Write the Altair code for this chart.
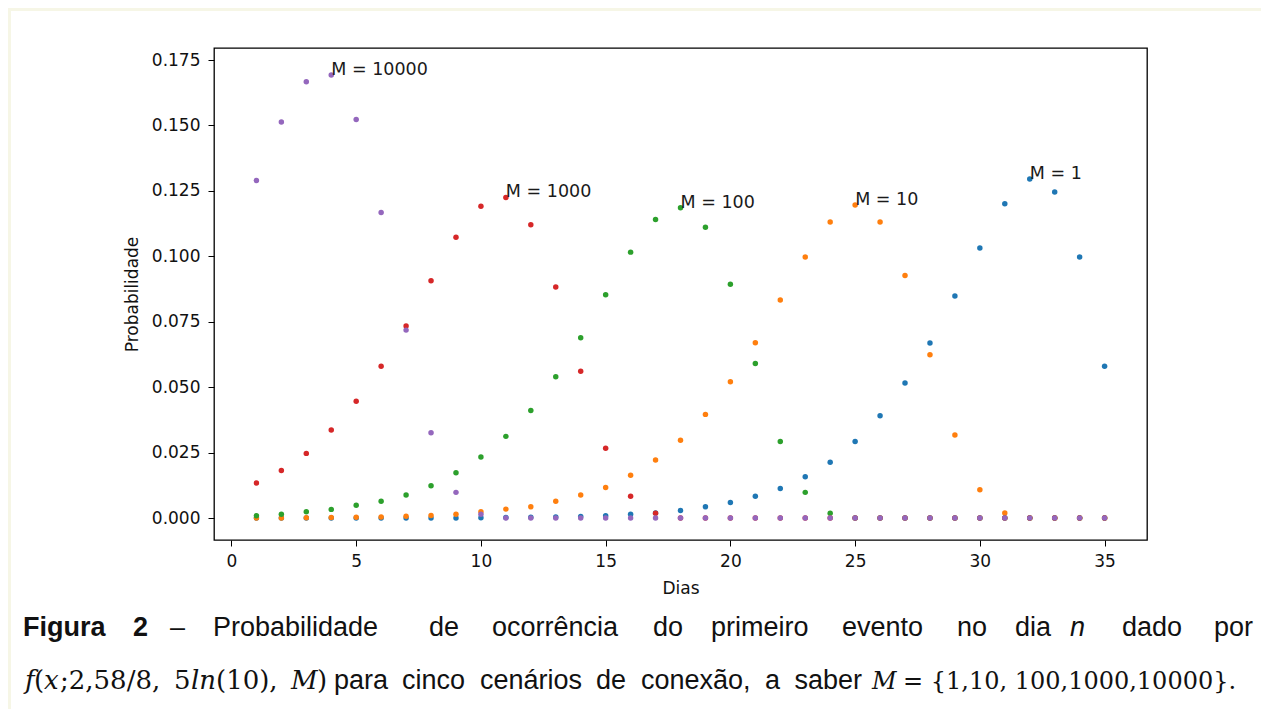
import altair as alt
import pandas as pd

# ---------------- data ----------------
days = list(range(1, 36))
series_names = ["M = 1", "M = 10", "M = 100", "M = 1000", "M = 10000"]
series_colors = ["#1f77b4", "#ff7f0e", "#2ca02c", "#d62728", "#9467bd"]

m1 = [0.0, 0.0, 0.0, 0.0, 0.0, 0.0, 0.0, 0.0, 0.0, 0.0001,
      0.0002, 0.0003, 0.0004, 0.0006, 0.0009, 0.0014, 0.0019, 0.0029, 0.0043, 0.0059,
      0.0083, 0.0113, 0.0158, 0.0213, 0.0292, 0.0391, 0.0516, 0.0669, 0.0848, 0.1032,
      0.1201, 0.1295, 0.1246, 0.0997, 0.0580]
m10 = [0.0, 0.0, 0.0001, 0.0002, 0.0003, 0.0004, 0.0007, 0.0010, 0.0014, 0.0024,
       0.0034, 0.0043, 0.0064, 0.0088, 0.0117, 0.0163, 0.0222, 0.0297, 0.0396, 0.0521,
       0.0670, 0.0833, 0.0997, 0.1131, 0.1196, 0.1131, 0.0927, 0.0624, 0.0317, 0.0108,
       0.0019, 0.0, 0.0, 0.0, 0.0]
m100 = [0.0009, 0.0014, 0.0024, 0.0033, 0.0049, 0.0064, 0.0088, 0.0123, 0.0173, 0.0233,
        0.0312, 0.0411, 0.0540, 0.0689, 0.0853, 0.1016, 0.1141, 0.1186, 0.1111, 0.0893,
        0.0590, 0.0292, 0.0098, 0.0018, 0.0, 0.0, 0.0, 0.0, 0.0, 0.0,
        0.0, 0.0, 0.0, 0.0, 0.0]
m1000 = [0.0134, 0.0182, 0.0247, 0.0336, 0.0446, 0.0580, 0.0734, 0.0907, 0.1073, 0.1191,
         0.1225, 0.1121, 0.0883, 0.0561, 0.0267, 0.0083, 0.0018, 0.0, 0.0, 0.0,
         0.0, 0.0, 0.0, 0.0, 0.0, 0.0, 0.0, 0.0, 0.0, 0.0,
         0.0, 0.0, 0.0, 0.0, 0.0]
m10000 = [0.1290, 0.1513, 0.1667, 0.1693, 0.1523, 0.1167, 0.0718, 0.0326, 0.0098, 0.0014,
          0.0, 0.0, 0.0, 0.0, 0.0, 0.0, 0.0, 0.0, 0.0, 0.0,
          0.0, 0.0, 0.0, 0.0, 0.0, 0.0, 0.0, 0.0, 0.0, 0.0,
          0.0, 0.0, 0.0, 0.0, 0.0]

label_texts = ["M = 1", "M = 10", "M = 100", "M = 1000", "M = 10000"]
label_days = [32, 25, 18, 11, 4]
label_vals = [0.1295, 0.1196, 0.1186, 0.1225, 0.1693]

x_ticks = [0, 5, 10, 15, 20, 25, 30, 35]
y_ticks = [0.0, 0.025, 0.05, 0.075, 0.1, 0.125, 0.15, 0.175]

# ---------------- tables ----------------
all_series = [m1, m10, m100, m1000, m10000]
rows = []
for name, vals in zip(series_names, all_series):
    for d, v in zip(days, vals):
        rows.append({"Dias": d, "Probabilidade": v, "M": name})
df = pd.DataFrame(rows)
labels_df = pd.DataFrame({"text": label_texts, "Dias": label_days, "Probabilidade": label_vals})

# ---------------- layout ----------------
PLOT_LEFT, PLOT_TOP = 214, 48
W, H = 933, 492

xscale = alt.Scale(domain=[-0.7, 36.7], nice=False, zero=False)
yscale = alt.Scale(domain=[-0.0084, 0.1796], nice=False, zero=False)

TICK_FONT = "DejaVu Sans"

x_enc = alt.X("Dias:Q", scale=xscale,
              axis=alt.Axis(values=x_ticks, format="d", grid=False, domain=False,
                            tickColor="black", tickSize=6, tickWidth=1,
                            labelFont=TICK_FONT, labelFontSize=17, labelColor="#111",
                            labelPadding=7, title="Dias", titleFont=TICK_FONT,
                            titleFontSize=17, titleFontWeight="normal", titleColor="#111",
                            titlePadding=11))
y_enc = alt.Y("Probabilidade:Q", scale=yscale,
              axis=alt.Axis(values=y_ticks, format=".3f", grid=False, domain=False,
                            tickColor="black", tickSize=6, tickWidth=1,
                            labelFont=TICK_FONT, labelFontSize=17, labelColor="#111",
                            labelPadding=8, title="Probabilidade", titleFont=TICK_FONT,
                            titleFontSize=17, titleFontWeight="normal", titleColor="#111",
                            titlePadding=10))

points = alt.Chart(df).mark_circle(size=30, opacity=1).encode(
    x=x_enc, y=y_enc,
    color=alt.Color("M:N", scale=alt.Scale(domain=series_names, range=series_colors), legend=None),
)

annots = alt.Chart(labels_df).mark_text(
    align="left", baseline="alphabetic", font=TICK_FONT, fontSize=17.5, color="#1a1a1a"
).encode(x=alt.X("Dias:Q", scale=xscale), y=alt.Y("Probabilidade:Q", scale=yscale), text="text:N")

# ---------------- caption (page-pixel layout) ----------------
SANS = "Liberation Sans"
SERIF = "DejaVu Serif"
L1, L2 = 636, 689
caption = [
    ("Figura", 23, L1, SANS, "bold", "normal", 27, "left"),
    ("2", 133, L1, SANS, "bold", "normal", 27, "left"),
    ("–", 170, L1, SANS, "normal", "normal", 27, "left"),
    ("Probabilidade", 213, L1, SANS, "normal", "normal", 27, "left"),
    ("de", 429, L1, SANS, "normal", "normal", 27, "left"),
    ("ocorrência", 492, L1, SANS, "normal", "normal", 27, "left"),
    ("do", 653, L1, SANS, "normal", "normal", 27, "left"),
    ("primeiro", 711, L1, SANS, "normal", "normal", 27, "left"),
    ("evento", 842, L1, SANS, "normal", "normal", 27, "left"),
    ("no", 957, L1, SANS, "normal", "normal", 27, "left"),
    ("dia", 1015, L1, SANS, "normal", "normal", 27, "left"),
    ("n", 1070, L1, SANS, "normal", "italic", 27, "left"),
    ("dado", 1122, L1, SANS, "normal", "normal", 27, "left"),
    ("por", 1253, L1, SANS, "normal", "normal", 27, "right"),
    ("f", 25, L2, SERIF, "normal", "italic", 26, "left"),
    ("(", 34, L2, SERIF, "normal", "normal", 26, "left"),
    ("x", 44, L2, SERIF, "normal", "italic", 26, "left"),
    (";2,58/8,", 60, L2, SERIF, "normal", "normal", 26, "left"),
    ("5", 174, L2, SERIF, "normal", "normal", 26, "left"),
    ("ln", 191, L2, SERIF, "normal", "italic", 26, "left"),
    ("(10),", 216, L2, SERIF, "normal", "normal", 26, "left"),
    ("M", 291, L2, SERIF, "normal", "italic", 26, "left"),
    (")", 317, L2, SERIF, "normal", "normal", 26, "left"),
    ("para", 334, L2, SANS, "normal", "normal", 27, "left"),
    ("cinco", 402, L2, SANS, "normal", "normal", 27, "left"),
    ("cenários", 480, L2, SANS, "normal", "normal", 27, "left"),
    ("de", 596, L2, SANS, "normal", "normal", 27, "left"),
    ("conexão,", 641, L2, SANS, "normal", "normal", 27, "left"),
    ("a", 765, L2, SANS, "normal", "normal", 27, "left"),
    ("saber", 862, L2, SANS, "normal", "normal", 27, "right"),
    ("M", 872, L2, SERIF, "normal", "italic", 24, "left"),
    ("= {1,10, 100,1000,10000}.", 903, L2, SERIF, "normal", "normal", 24, "left"),
]

one = alt.Data(values=[{"k": 0}])
cap_layers = []
for txt, px, py, fnt, fw, fs, size, al in caption:
    cap_layers.append(
        alt.Chart(one).mark_text(
            text=txt, align=al, baseline="alphabetic", font=fnt, fontWeight=fw,
            fontStyle=fs, fontSize=size, color="#111"
        ).encode(x=alt.value(px - PLOT_LEFT), y=alt.value(py - PLOT_TOP))
    )

frame_top = alt.Chart(one).mark_rule(color="#f6f6e6", strokeWidth=3).encode(
    x=alt.value(8 - PLOT_LEFT), x2=alt.value(1261 - PLOT_LEFT), y=alt.value(9.5 - PLOT_TOP))
frame_left = alt.Chart(one).mark_rule(color="#f6f6e6", strokeWidth=3).encode(
    x=alt.value(9.5 - PLOT_LEFT), y=alt.value(8 - PLOT_TOP), y2=alt.value(717 - PLOT_TOP))

chart = alt.layer(frame_top, frame_left, points, annots, *cap_layers).properties(
    width=W, height=H,
    autosize=alt.AutoSizeParams(type="none"),
    padding={"left": PLOT_LEFT - 8, "top": PLOT_TOP - 8, "right": 1253 - (PLOT_LEFT - 8) - W,
             "bottom": 701 - (PLOT_TOP - 8) - H},
    background="white",
).configure_view(stroke="black", strokeWidth=1.3)

chart.save("out.html", embed_options={"renderer": "svg", "actions": False})
